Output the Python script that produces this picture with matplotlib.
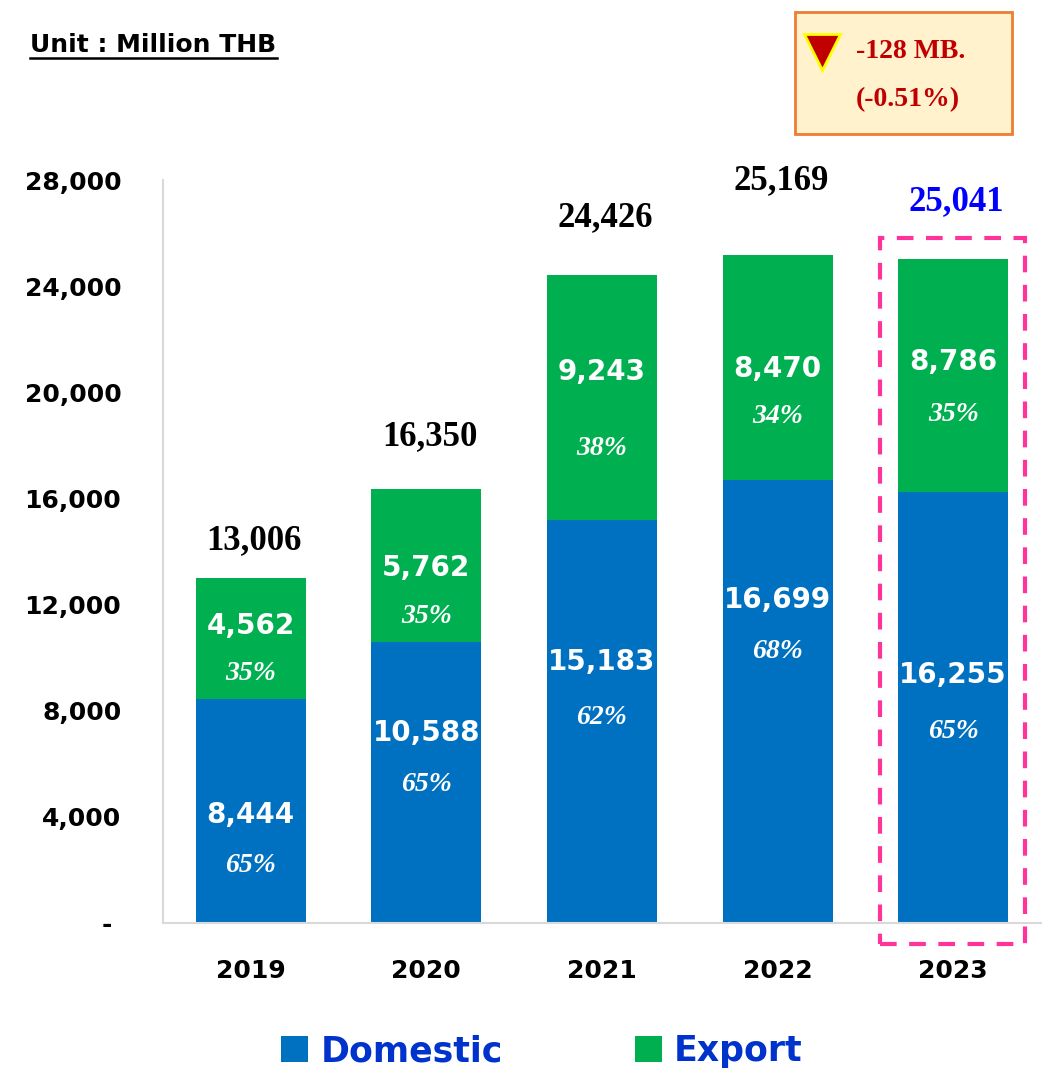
import matplotlib
matplotlib.use("Agg")
import matplotlib.pyplot as plt
from matplotlib.patches import Rectangle
from matplotlib.lines import Line2D

years = ["2019", "2020", "2021", "2022", "2023"]
domestic = [8444, 10588, 15183, 16699, 16255]
export = [4562, 5762, 9243, 8470, 8786]
totals = [13006, 16350, 24426, 25169, 25041]
dom_pct = ["65%", "65%", "62%", "68%", "65%"]
exp_pct = ["35%", "35%", "38%", "34%", "35%"]
yticks = [0, 4000, 8000, 12000, 16000, 20000, 24000, 28000]

# label heights (data units), placed by hand like the original slide
dom_lab_y = [4070, 7160, 9836, 12172, 9346]
dom_pct_y = [2148, 5238, 7763, 10250, 7235]
exp_lab_y = [11192, 13378, 20764, 20877, 21141]
exp_pct_y = [9421, 11569, 17900, 19106, 19181]
tot_y = [14395, 18315, 26568, 27962, 27171]

c_dom = "#0070C0"
c_exp = "#00B050"
sans = "DejaVu Sans"
serif = "Liberation Serif"

fig = plt.figure(figsize=(10.48, 10.74), dpi=100)
ax = fig.add_axes([0.1555, 0.1406, 0.8378, 0.6918])

x = list(range(len(years)))
b1 = ax.bar(x, domestic, width=0.627, color=c_dom, label="Domestic")
b2 = ax.bar(x, export, width=0.627, bottom=domestic, color=c_exp, label="Export")

ax.set_xlim(-0.5, 4.5)
ax.set_ylim(0, 28000)
ax.set_yticks(yticks)
ax.set_yticklabels(["- "] + [f"{v:,}" for v in yticks[1:]],
                   fontsize=18, fontweight="bold", family=sans)
ax.set_xticks(x)
ax.set_xticklabels(years, fontsize=18, fontweight="bold", family=sans)
ax.tick_params(axis="y", length=0, pad=30)
ax.tick_params(axis="x", length=0, pad=26)
for s in ["top", "right"]:
    ax.spines[s].set_visible(False)
for s in ["left", "bottom"]:
    ax.spines[s].set_color("#D9D9D9")
    ax.spines[s].set_linewidth(1.5)

for i in x:
    ax.text(i, dom_lab_y[i], f"{domestic[i]:,}", ha="center", va="center",
            color="white", fontsize=20, fontweight="bold", family=sans)
    ax.text(i, dom_pct_y[i], dom_pct[i], ha="center", va="center",
            color="white", fontsize=20, fontweight="bold", style="italic", family=serif)
    ax.text(i, exp_lab_y[i], f"{export[i]:,}", ha="center", va="center",
            color="white", fontsize=20, fontweight="bold", family=sans)
    ax.text(i, exp_pct_y[i], exp_pct[i], ha="center", va="center",
            color="white", fontsize=20, fontweight="bold", style="italic", family=serif)
    ax.text(i + 0.02, tot_y[i], f"{totals[i]:,}", ha="center", va="center",
            color="#0000FF" if i == 4 else "black",
            fontsize=25, fontweight="bold", family=serif, clip_on=False)

# highlight box around 2023
ax.add_patch(Rectangle((3.584, -791), 0.826, 26600, fill=False,
                       edgecolor="#FF3399", linestyle=(0, (4, 3)), linewidth=3,
                       clip_on=False))

# unit label
fig.text(0.0286, 0.958, "Unit : Million THB", fontsize=18, fontweight="heavy",
         family=sans, ha="left", va="center")
fig.add_artist(Line2D([0.0286, 0.264], [0.946, 0.946], color="black", lw=1.8))

# change box
fig.add_artist(Rectangle((0.7586, 0.8752), 0.2071, 0.1136, transform=fig.transFigure,
                         facecolor="#FFF2CC", edgecolor="#ED7D31", lw=2))
fig.add_artist(Line2D([0.7845], [0.9516], marker="v", markersize=26,
                      markerfacecolor="#C00000", markeredgecolor="#FFFF00",
                      markeredgewidth=2, transform=fig.transFigure))
fig.text(0.8168, 0.9516, "-128 MB.", color="#C00000", fontsize=20,
         fontweight="bold", family=serif, ha="left", va="center")
fig.text(0.8168, 0.9069, "(-0.51%)", color="#C00000", fontsize=20,
         fontweight="bold", family=serif, ha="left", va="center")

leg = fig.legend(handles=[b1, b2], loc="center", bbox_to_anchor=(0.517, 0.021),
                 ncol=2, frameon=False, handlelength=0.78, handleheight=0.78,
                 handletextpad=0.36, columnspacing=3.8,
                 prop={"family": sans, "weight": "bold", "size": 25})
for t in leg.get_texts():
    t.set_color("#0033CC")

fig.savefig("out.png", dpi=100)
